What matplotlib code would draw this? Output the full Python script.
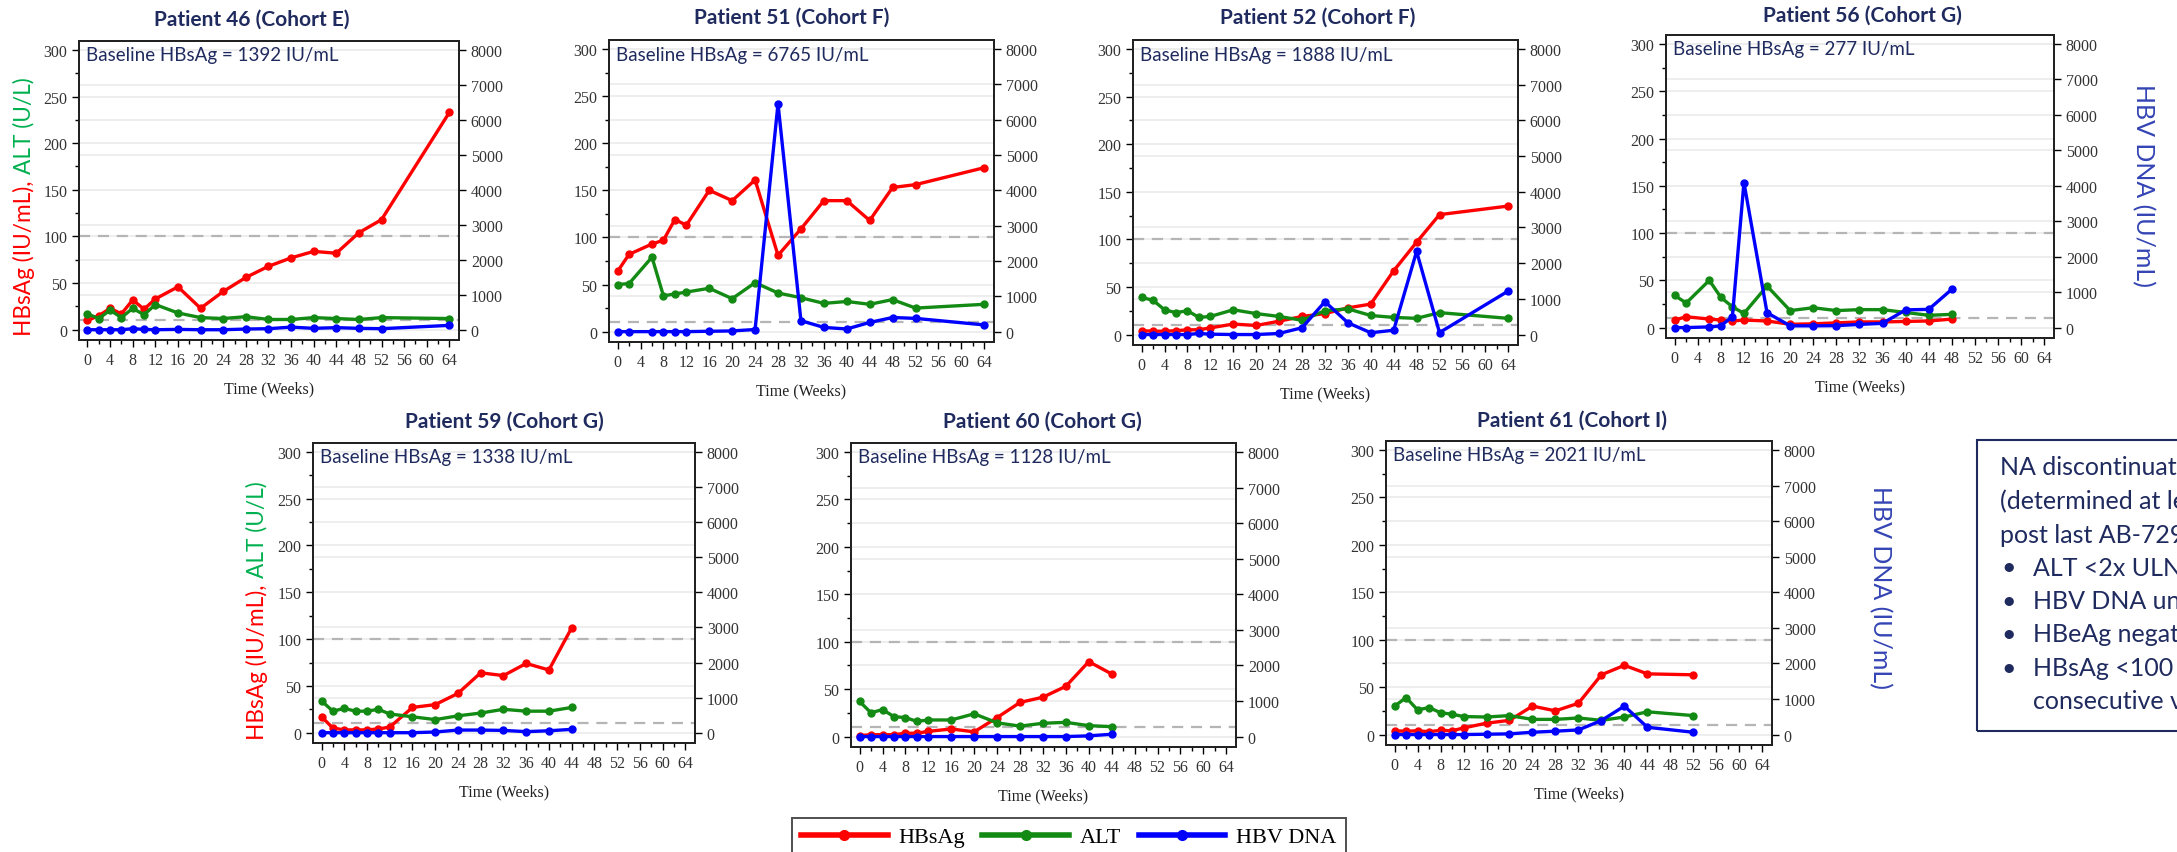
import matplotlib
matplotlib.use("Agg")
import matplotlib.pyplot as plt
from matplotlib.ticker import MultipleLocator
from matplotlib.lines import Line2D
from matplotlib.patches import Rectangle

# ---- values ----
titles = ["Patient 46 (Cohort E)", "Patient 51 (Cohort F)", "Patient 52 (Cohort F)",
          "Patient 56 (Cohort G)", "Patient 59 (Cohort G)", "Patient 60 (Cohort G)",
          "Patient 61 (Cohort I)"]
baseline_hbsag = [1392, 6765, 1888, 277, 1338, 1128, 2021]

weeks_46 = [0, 2, 4, 6, 8, 10, 12, 16, 20, 24, 28, 32, 36, 40, 44, 48, 52, 64]
hbsag_46 = [10, 15, 23, 17, 32, 22, 33, 46, 23, 41, 56, 68, 77, 84, 82, 104, 118, 233]
alt_46 = [17, 12, 21, 13, 23, 16, 27, 18, 13, 12, 14, 11, 11, 13, 12, 11, 13, 12]
dna_46 = [0, 0, 0, 0, 30, 10, 0, 10, 0, 0, 20, 30, 75, 40, 60, 40, 30, 125]

weeks_51 = [0, 2, 6, 8, 10, 12, 16, 20, 24, 28, 32, 36, 40, 44, 48, 52, 64]
hbsag_51 = [64, 82, 93, 97, 119, 113, 150, 139, 161, 81, 109, 139, 139, 118, 153, 156, 174]
alt_51 = [50, 51, 79, 38, 40, 42, 46, 35, 52, 41, 36, 30, 32, 29, 34, 25, 29]
dna_51 = [0, 0, 0, 0, 0, 0, 10, 20, 60, 6450, 310, 120, 75, 260, 400, 375, 190]

weeks_52 = [0, 2, 4, 6, 8, 10, 12, 16, 20, 24, 28, 32, 36, 40, 44, 48, 52, 64]
hbsag_52 = [4, 3.5, 3.5, 4, 5, 5, 7, 11, 9.5, 14, 19, 22, 28, 32, 67, 97, 126, 135]
alt_52 = [39, 36, 26, 23, 25, 18, 19, 26, 22, 19, 15, 25, 27, 20, 18, 17, 23, 17]
dna_52 = [0, 0, 0, 0, 0, 30, 10, 0, 0, 30, 190, 920, 330, 50, 120, 2330, 55, 1220]

weeks_56 = [0, 2, 6, 8, 10, 12, 16, 20, 24, 28, 32, 36, 40, 44, 48]
hbsag_56 = [8, 11.5, 9, 8, 7, 8, 7, 3.5, 4, 5, 6, 6, 6.5, 7, 9]
alt_56 = [34, 26, 50, 32, 22, 15, 44, 18, 21, 18, 19, 19, 16, 13, 14]
dna_56 = [0, 0, 20, 50, 310, 4090, 420, 50, 50, 55, 90, 120, 500, 515, 1080]

weeks_59 = [0, 2, 4, 6, 8, 10, 12, 16, 20, 24, 28, 32, 36, 40, 44]
hbsag_59 = [17, 5, 3, 3, 3, 4, 6, 27, 30, 42, 64, 61, 74, 67, 112]
alt_59 = [34, 23, 26, 23, 23, 25, 20, 17, 14, 18, 21, 25, 23, 23, 27]
dna_59 = [0, 0, 0, 0, 0, 0, 0, 0, 20, 75, 75, 65, 30, 55, 95]

weeks_60 = [0, 2, 4, 6, 8, 10, 12, 16, 20, 24, 28, 32, 36, 40, 44]
hbsag_60 = [1, 2, 2, 2, 3.5, 3.5, 5.5, 8, 5, 20, 36, 41.5, 53, 79, 66]
alt_60 = [37, 25, 28.5, 21, 20, 16, 17.5, 17.5, 24, 14.5, 11, 14, 15, 11.5, 10.5]
dna_60 = [0, 0, 0, 0, 0, 0, 0, 0, 0, 0, 0, 0, 0, 20, 65]

weeks_61 = [0, 2, 4, 6, 8, 10, 12, 16, 20, 24, 28, 32, 36, 40, 44, 52]
hbsag_61 = [4, 3.5, 4, 3, 4.5, 4, 7, 12, 15, 30, 25, 33, 63, 73, 64, 63]
alt_61 = [30, 39, 26, 28.5, 23, 21.5, 19, 18.5, 20, 16, 16, 17.5, 15, 18.5, 24, 20]
dna_61 = [0, 0, 0, 0, 0, 0, 0, 10, 20, 65, 95, 130, 395, 800, 205, 65]

weeks = [weeks_46, weeks_51, weeks_52, weeks_56, weeks_59, weeks_60, weeks_61]
hbsag = [hbsag_46, hbsag_51, hbsag_52, hbsag_56, hbsag_59, hbsag_60, hbsag_61]
alt = [alt_46, alt_51, alt_52, alt_56, alt_59, alt_60, alt_61]
dna = [dna_46, dna_51, dna_52, dna_56, dna_59, dna_60, dna_61]

criteria = ["NA discontinuation criteria",
            "(determined at least 24 weeks",
            "post last AB-729 dose):"]
bullets = ["ALT <2x ULN,", "HBV DNA undetectable,", "HBeAg negative,",
           "HBsAg <100 IU/mL on 2", "consecutive visits"]

# ---- layout (pixels, origin top-left) ----
W, H = 2177, 853
boxes = [(79, 459, 42, 341), (609, 994, 41, 343), (1133, 1518, 41, 346),
         (1666, 2054, 36, 339), (313, 695, 444, 744), (851, 1236, 444, 748),
         (1386, 1772, 442, 746)]
title_pos = [(252, 20), (792, 18), (1318, 18), (1862, 16),
             (504, 422), (1042, 422), (1572, 421)]

RED, GREEN, BLUE = "#ff0000", "#138a13", "#0000ff"
NAVY = "#1f2a5e"
SANS = "Lato"
SERIF = "Liberation Serif"

fig = plt.figure(figsize=(W / 100, H / 100), dpi=100)


def fx(x):
    return x / W


def fy(y):
    return 1 - y / H


YLO, YHI = -11, 309.5
SCALE = 8000 / 300

for i in range(7):
    l, r, t, b = boxes[i]
    ax = fig.add_axes([fx(l), fy(b), (r - l) / W, (b - t) / H])
    ax.set_xlim(-1.5, 65.7)
    ax.set_ylim(YLO, YHI)

    # faint grid for both y scales, plus the 100 and 10 reference lines
    for v in range(0, 301, 50):
        ax.axhline(v, color="#ededed", lw=1.3, zorder=0)
    for v in range(1000, 8001, 1000):
        ax.axhline(v / SCALE, color="#ededed", lw=1.3, zorder=0)
    for v in (100, 10):
        ax.axhline(v, color="#b5b5b5", lw=1.6, dashes=(5, 3.5), zorder=1)

    ax.plot(weeks[i], hbsag[i], color=RED, lw=2.4, marker="o", ms=5,
            solid_joinstyle="miter", zorder=3)
    ax.plot(weeks[i], alt[i], color=GREEN, lw=2.4, marker="o", ms=5,
            solid_joinstyle="miter", zorder=4)

    ax2 = ax.twinx()
    ax2.set_ylim(YLO * SCALE, YHI * SCALE)
    ax2.plot(weeks[i], dna[i], color=BLUE, lw=2.4, marker="o", ms=5,
             solid_joinstyle="miter", zorder=5)

    ax.set_xticks(range(0, 65, 4))
    ax.xaxis.set_minor_locator(MultipleLocator(2))
    ax.set_yticks(range(0, 301, 50))
    ax.yaxis.set_minor_locator(MultipleLocator(25))
    ax2.set_yticks(range(0, 8001, 1000))

    for a in (ax, ax2):
        a.tick_params(which="major", direction="out", length=5, width=1,
                      labelsize=11.5, labelcolor="#333333",
                      labelfontfamily=SERIF)
        a.tick_params(which="minor", direction="out", length=3, width=1)
        for s in a.spines.values():
            s.set_linewidth(1.4)
            s.set_color("#222222")

    ax.set_xlabel("Time (Weeks)", family=SERIF, fontsize=11.5, color="#222222",
                  labelpad=9)

    fig.text(fx(title_pos[i][0]), fy(title_pos[i][1]), titles[i],
             ha="center", va="center", fontsize=15, fontweight="bold",
             color=NAVY, family=SANS)
    fig.text(fx(l + 7), fy(t + 14), f"Baseline HBsAg = {baseline_hbsag[i]} IU/mL",
             ha="left", va="center", fontsize=13.5, color=NAVY, family=SANS)

renderer = fig.canvas.get_renderer()

# two-colour left axis titles (panels 46 and 59)
for xb, yb in ((31, 336), (264, 740)):
    t1 = fig.text(fx(xb), fy(yb), "HBsAg (IU/mL),", color=RED, fontsize=16.3,
                  family=SANS, rotation=90, rotation_mode="anchor",
                  ha="left", va="baseline")
    bb = t1.get_window_extent(renderer=renderer)
    fig.text(fx(xb), (bb.y1 + 6) / H, "ALT (U/L)", color="#00b050", fontsize=16.3,
             family=SANS, rotation=90, rotation_mode="anchor",
             ha="left", va="baseline")

# right axis titles (panels 56 and 61)
for xc, yc in ((2143, 185), (1880, 588)):
    fig.text(fx(xc), fy(yc), "HBV DNA (IU/mL)", color="#3444b4", fontsize=18,
             family=SANS, rotation=270, ha="center", va="center")

# legend
handles = [Line2D([], [], color=c, lw=4, marker="o", ms=7) for c in (RED, GREEN, BLUE)]
leg = fig.legend(handles, ["HBsAg", "ALT", "HBV DNA"], ncol=3,
                 loc="upper left", bbox_to_anchor=(fx(792), fy(819)),
                 frameon=True, fancybox=False, edgecolor="#222222",
                 handlelength=3.9, handletextpad=0.5, columnspacing=0.77,
                 borderpad=0.4, borderaxespad=0,
                 prop={"family": SERIF, "size": 16})
leg.get_frame().set_linewidth(1.4)

# criteria box, cut off at the right edge as on the slide
fig.add_artist(Rectangle((fx(1977), fy(732)), fx(260), (732 - 441) / H,
                         transform=fig.transFigure, fill=False,
                         edgecolor=NAVY, lw=1.5, clip_on=False))
for k, line in enumerate(criteria):
    fig.text(fx(2000), fy(468 + 33.4 * k), line, ha="left", va="center",
             fontsize=18, color=NAVY, family=SANS)
for k, line in enumerate(bullets):
    y = 568 + 33.4 * k
    if k < 4:
        fig.text(fx(2001), fy(y), "\u2022", ha="left", va="center",
                 fontsize=18, color=NAVY, family=SANS)
    fig.text(fx(2033), fy(y), line, ha="left", va="center",
             fontsize=18, color=NAVY, family=SANS)

fig.savefig("out.png", dpi=100)
